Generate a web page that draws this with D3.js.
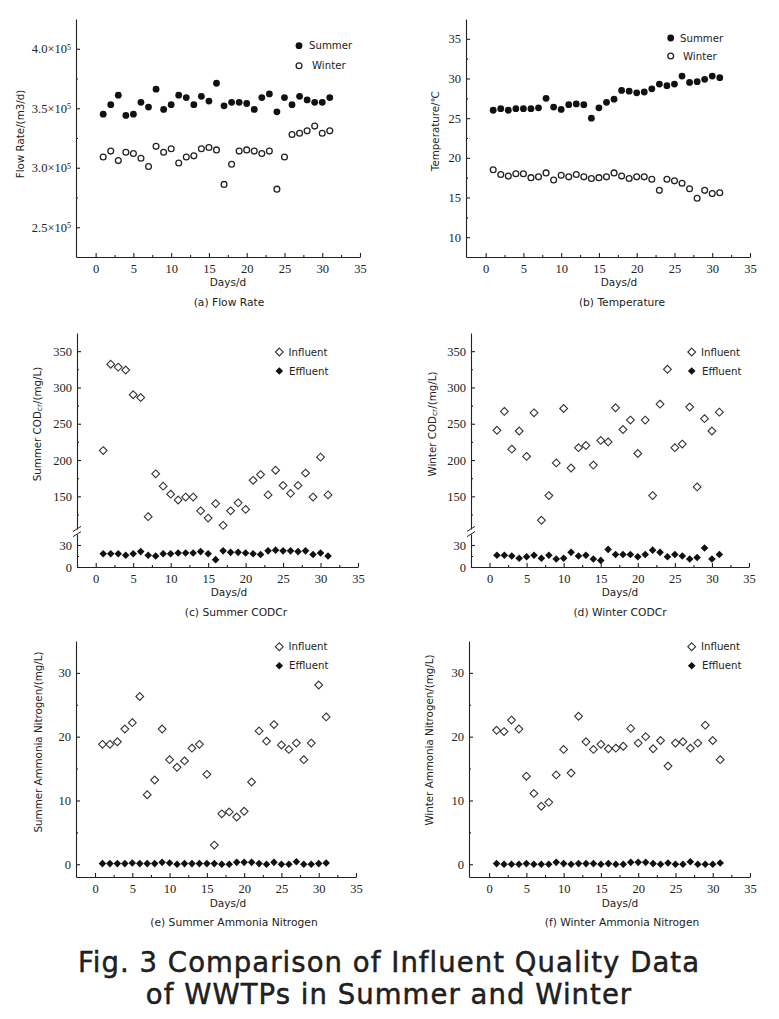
<!DOCTYPE html>
<html>
<head>
<meta charset="utf-8">
<script src="https://cdn.jsdelivr.net/npm/d3@7"></script>
<style>
  body { margin: 0; background: #fff; }
  svg { display: block; background: #fff; }
  .axis .tick text { font-family: "Liberation Serif", "Times New Roman", serif; font-size: 12.5px; fill: #222; }
  .axis path, .axis line { stroke: #222; stroke-width: 1.1; }
  .lbl { font-family: "DejaVu Sans", Verdana, sans-serif; fill: #222; }
</style>
</head>
<body>
<svg width="779" height="1019"></svg>
<script>
// days of the month (x categories)
const days = [1,2,3,4,5,6,7,8,9,10,11,12,13,14,15,16,17,18,19,20,21,22,23,24,25,26,27,28,29,30,31];

// (a) flow rate, m3/d
const flowSummer = [345000,353000,361000,344000,345000,355000,351000,366000,349000,353000,361000,359000,353000,360000,356000,371000,352000,355000,355000,354000,349000,359000,362000,347000,359000,353000,360000,357000,355000,355000,359000];
const flowWinter = [309000,314000,306000,313000,312000,308000,301000,318000,313000,316000,304000,309000,310000,316000,317000,315000,286000,303000,314000,315000,314000,312000,314000,282000,309000,328000,329000,331000,335000,329000,331000];
const flowTicks = [250000, 300000, 350000, 400000];

// (b) temperature
const tempSummer = [26.0,26.2,26.0,26.2,26.2,26.2,26.3,27.5,26.4,26.1,26.7,26.8,26.7,25.0,26.3,27.0,27.4,28.5,28.4,28.2,28.3,28.7,29.3,29.1,29.3,30.3,29.5,29.6,29.9,30.3,30.1];
const tempWinter = [18.5,17.9,17.7,18.0,18.0,17.5,17.6,18.1,17.2,17.8,17.6,17.9,17.6,17.4,17.5,17.6,18.1,17.7,17.4,17.6,17.6,17.3,15.9,17.3,17.1,16.8,16.1,14.9,15.9,15.5,15.6];
const tempTicks = [10, 15, 20, 25, 30, 35];

// (c)(d) CODcr
const codSummerIn = [213,332,328,324,290,286,122,181,164,153,145,149,149,130,120,140,110,130,141,132,172,180,152,186,165,154,165,182,149,204,152];
const codSummerOut = [18,18,18,16,18,21,16,15,18,18,19,19,19,21,18,10,22,20,20,19,18,17,22,23,22,22,21,22,17,19,15];
const codWinterIn = [241,267,215,240,205,265,117,151,196,271,189,217,220,193,227,225,272,242,255,209,255,151,277,325,217,222,273,163,257,240,266];
const codWinterOut = [16,16,15,12,14,16,12,16,11,12,20,15,16,11,9,24,17,17,17,14,17,23,20,14,17,15,11,13,26,11,17];
const codTicksHigh = [150, 200, 250, 300, 350];
const codTicksLow = [0, 30];

// (e)(f) ammonia nitrogen
const nh3SummerIn = [18.8,18.8,19.2,21.2,22.2,26.3,10.9,13.2,21.2,16.4,15.2,16.2,18.2,18.8,14.1,3.0,7.9,8.2,7.4,8.3,12.9,20.9,19.3,21.9,18.7,18.0,19.0,16.4,19.0,28.1,23.1];
const nh3SummerOut = [0.1,0.1,0.1,0.1,0.2,0.1,0.1,0.1,0.3,0.2,0.0,0.1,0.1,0.1,0.1,0.1,0.0,0.0,0.3,0.3,0.3,0.1,0.0,0.3,0.0,0.0,0.4,0.0,0.0,0.1,0.2];
const nh3WinterIn = [21.0,20.8,22.6,21.2,13.8,11.1,9.1,9.7,14.0,18.0,14.3,23.2,19.2,18.0,18.8,18.1,18.2,18.5,21.3,19.0,20.0,18.1,19.4,15.4,19.0,19.2,18.2,19.0,21.8,19.4,16.4];
const nh3WinterOut = [0.1,0.0,0.0,0.0,0.1,0.0,0.0,0.0,0.3,0.1,0.0,0.1,0.1,0.1,0.0,0.1,0.0,0.0,0.3,0.3,0.3,0.1,0.0,0.2,0.0,0.0,0.4,0.0,0.0,0.0,0.2];
const nh3Ticks = [0, 10, 20, 30];

const dayTicks = [0, 5, 10, 15, 20, 25, 30, 35];

const svg = d3.select('svg');

// marker drawing
const diamond = h => `M0,${-h}L${h},0L0,${h}L${-h},0Z`;
function marker(g, kind, x, y) {
  if (kind === 'dot') {
    g.append('circle').attr('cx', x).attr('cy', y).attr('r', 3.4).attr('fill', '#111');
  } else if (kind === 'ring') {
    g.append('circle').attr('cx', x).attr('cy', y).attr('r', 2.9)
      .attr('fill', '#fff').attr('stroke', '#222').attr('stroke-width', 1.3);
  } else if (kind === 'open') {
    g.append('path').attr('d', diamond(3.9)).attr('transform', `translate(${x},${y})`)
      .attr('fill', '#fff').attr('stroke', '#333').attr('stroke-width', 1.1);
  } else {
    g.append('path').attr('d', diamond(3.8)).attr('transform', `translate(${x},${y})`)
      .attr('fill', '#111');
  }
}

function minors(majors) {
  const out = [];
  for (let i = 0; i < majors.length - 1; i++) out.push((majors[i] + majors[i + 1]) / 2);
  return out;
}

function drawPanel(p) {
  const g = svg.append('g');
  const x = d3.scaleLinear().domain([p.xMin, 35]).range([p.left, p.right]);

  // x axis
  g.append('g').attr('class', 'axis').attr('transform', `translate(0,${p.bottom})`)
    .call(d3.axisBottom(x).tickValues(dayTicks).tickSize(-4).tickSizeOuter(0).tickPadding(7));
  g.append('g').attr('class', 'axis').attr('transform', `translate(0,${p.bottom})`)
    .call(d3.axisBottom(x).tickValues(minors(dayTicks)).tickSize(-2).tickSizeOuter(0).tickFormat(''))
    .select('.domain').remove();

  let y;
  const yAxisGroups = [];
  if (p.brk) {
    const yLow = d3.scaleLinear().domain([0, 45]).range([p.bottom, p.brk[1]]);
    const yHigh = d3.scaleLinear().domain([105, 375]).range([p.brk[0], p.top]);
    y = v => v < 75 ? yLow(v) : yHigh(v);
    yAxisGroups.push([yLow, codTicksLow, [15]]);
    yAxisGroups.push([yHigh, codTicksHigh, [125, 175, 225, 275, 325]]);
  } else {
    y = d3.scaleLinear().domain(p.yDom).range([p.bottom, p.top]);
    yAxisGroups.push([y, p.yTicks, minors(p.yTicks)]);
  }

  yAxisGroups.forEach(([sc, majors, mins]) => {
    const ax = g.append('g').attr('class', 'axis').attr('transform', `translate(${p.left},0)`)
      .call(d3.axisLeft(sc).tickValues(majors).tickSize(-4).tickSizeOuter(0).tickPadding(5));
    g.append('g').attr('class', 'axis').attr('transform', `translate(${p.left},0)`)
      .call(d3.axisLeft(sc).tickValues(mins).tickSize(-2).tickSizeOuter(0).tickFormat(''))
      .select('.domain').remove();
    if (p.sci) {
      ax.selectAll('.tick text').each(function (d) {
        const t = d3.select(this).text(null);
        t.append('tspan').text((d / 1e5).toFixed(1) + '×10');
        t.append('tspan').attr('dy', '-0.45em').attr('font-size', '8px').text('5');
      });
    }
  });

  if (p.brk) {
    const bx = p.left, by = (p.brk[0] + p.brk[1]) / 2;
    [-2.6, 2.6].forEach(o => {
      g.append('line').attr('x1', bx - 4).attr('y1', by + o + 2.5).attr('x2', bx + 4).attr('y2', by + o - 2.5)
        .attr('stroke', '#222').attr('stroke-width', 1);
    });
  }

  // points
  const pts = g.append('g');
  p.series.forEach(s => {
    s.values.forEach((v, i) => marker(pts, s.kind, x(days[i]), y(v)));
  });

  // legend
  p.series.forEach((s, i) => {
    const L = p.legend[i];
    marker(g, s.kind, L[0], L[1]);
    g.append('text').attr('class', 'lbl').attr('x', L[2]).attr('y', L[1] + 3.6)
      .attr('font-size', '10.2px').text(s.name);
  });

  // axis titles
  const yl = g.append('text').attr('class', 'lbl').attr('font-size', '10.3px')
    .attr('text-anchor', 'middle').attr('dominant-baseline', 'central')
    .attr('transform', `translate(${p.ylab[0]},${p.ylab[1]}) rotate(-90)`);
  p.ylabel.forEach(part => {
    const t = yl.append('tspan').text(part.t);
    if (part.sub) t.attr('font-size', '7.5px').attr('baseline-shift', '-25%');
  });
  g.append('text').attr('class', 'lbl').attr('font-size', '10.5px').attr('text-anchor', 'middle')
    .attr('x', p.xlab[0]).attr('y', p.xlab[1]).text('Days/d');
  g.append('text').attr('class', 'lbl').attr('font-size', '10.7px').attr('text-anchor', 'middle')
    .attr('x', p.cap[0]).attr('y', p.cap[1]).text(p.caption);
}

const panels = [
  { left: 76, right: 360, top: 19, bottom: 257, xMin: -2.6, yDom: [225000, 425000], yTicks: flowTicks, sci: true,
    series: [{ name: 'Summer', kind: 'dot', values: flowSummer }, { name: ' Winter', kind: 'ring', values: flowWinter }],
    legend: [[299, 45.7, 309], [299, 65.7, 312]],
    ylabel: [{ t: 'Flow Rate/(m3/d)' }], ylab: [20, 134], xlab: [228, 286], cap: [229, 306], caption: '(a) Flow Rate' },
  { left: 466, right: 750, top: 19, bottom: 257, xMin: -2.6, yDom: [7.5, 37.5], yTicks: tempTicks,
    series: [{ name: 'Summer', kind: 'dot', values: tempSummer }, { name: ' Winter', kind: 'ring', values: tempWinter }],
    legend: [[670.7, 38, 680], [670.7, 56, 683]],
    ylabel: [{ t: 'Temperature/℃' }], ylab: [435, 131], xlab: [619, 286], cap: [622, 306], caption: '(b) Temperature' },
  { left: 77, right: 358, top: 333, bottom: 567, xMin: -2.5, brk: [529, 534],
    series: [{ name: 'Influent', kind: 'open', values: codSummerIn }, { name: 'Effluent', kind: 'fill', values: codSummerOut }],
    legend: [[279.3, 352, 288.5], [279.3, 371, 289]],
    ylabel: [{ t: 'Summer COD' }, { t: 'cr', sub: true }, { t: '/(mg/L)' }], ylab: [37, 424], xlab: [229, 596], cap: [236, 616], caption: '(c) Summer CODCr' },
  { left: 471, right: 749, top: 333, bottom: 567, xMin: -2.5, brk: [529, 534],
    series: [{ name: 'Influent', kind: 'open', values: codWinterIn }, { name: 'Effluent', kind: 'fill', values: codWinterOut }],
    legend: [[691.7, 352, 701], [691.7, 371, 702]],
    ylabel: [{ t: 'Winter COD' }, { t: 'cr', sub: true }, { t: '/(mg/L)' }], ylab: [432, 424], xlab: [620, 596], cap: [620, 616], caption: '(d) Winter CODCr' },
  { left: 76, right: 356, top: 641, bottom: 877, xMin: -2.55, yDom: [-2, 35], yTicks: nh3Ticks,
    series: [{ name: 'Influent', kind: 'open', values: nh3SummerIn }, { name: 'Effluent', kind: 'fill', values: nh3SummerOut }],
    legend: [[279.3, 646.7, 288.5], [279.3, 665.7, 289]],
    ylabel: [{ t: 'Summer Ammonia Nitrogen/(mg/L)' }], ylab: [37.5, 742], xlab: [228, 907], cap: [234, 926], caption: '(e) Summer Ammonia Nitrogen' },
  { left: 469, right: 750, top: 641, bottom: 877, xMin: -2.7, yDom: [-2, 35], yTicks: nh3Ticks,
    series: [{ name: 'Influent', kind: 'open', values: nh3WinterIn }, { name: 'Effluent', kind: 'fill', values: nh3WinterOut }],
    legend: [[691.7, 646.7, 701], [691.7, 665.7, 702]],
    ylabel: [{ t: 'Winter Ammonia Nitrogen/(mg/L)' }], ylab: [428.5, 740], xlab: [620, 907], cap: [622, 926], caption: '(f) Winter Ammonia Nitrogen' }
];

panels.forEach(drawPanel);

// figure caption
const title = svg.append('text').attr('class', 'lbl').attr('text-anchor', 'middle')
  .attr('font-size', '27.5px').attr('letter-spacing', '1.05px').attr('fill', '#111')
  .attr('stroke', '#111').attr('stroke-width', 0.45);
title.append('tspan').attr('x', 389).attr('y', 971.5).text('Fig. 3 Comparison of Influent Quality Data');
title.append('tspan').attr('x', 389).attr('y', 1003.5).text('of WWTPs in Summer and Winter');
</script>
</body>
</html>
